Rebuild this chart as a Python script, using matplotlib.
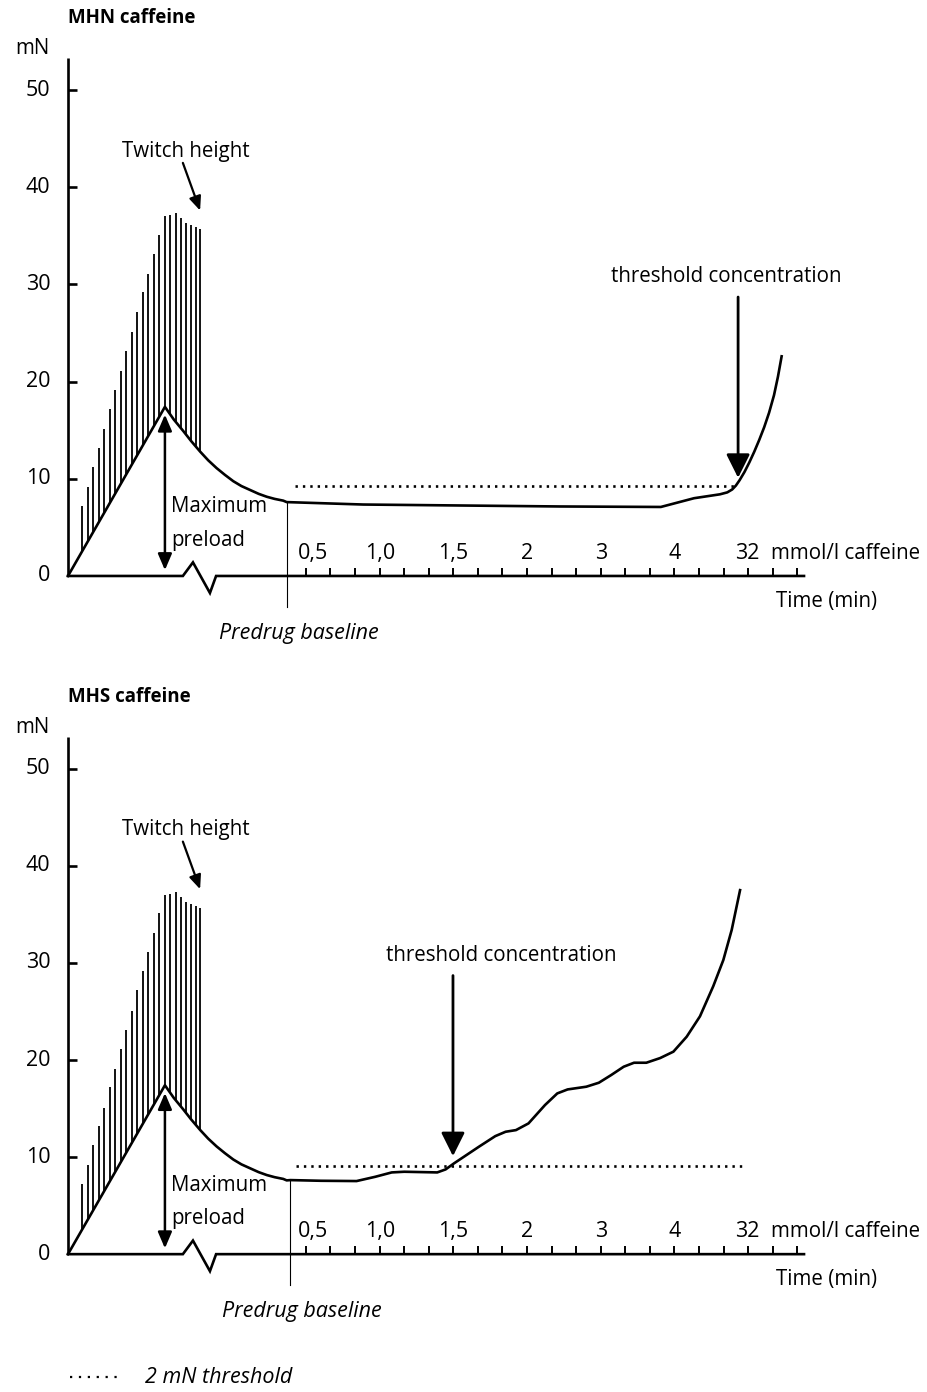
import matplotlib.pyplot as plt
import numpy as np

plt.rcParams["font.family"] = ["Open Sans", "DejaVu Sans"]

# Force axis (mN)
force_ticks = [0, 10, 20, 30, 40, 50]
force_top = 53.3

# Twitch responses during the preload phase (time in arbitrary units, peak force in mN)
twitch_t = [0.57, 0.81, 1.02, 1.26, 1.46, 1.71, 1.91, 2.15, 2.36, 2.60, 2.80, 3.05,
            3.25, 3.50, 3.70, 3.94, 4.15, 4.39, 4.59, 4.80, 5.00, 5.20, 5.37]
twitch_top = [7.2, 9.2, 11.2, 13.2, 15.1, 17.2, 19.1, 21.1, 23.1, 25.1, 27.2, 29.2,
              31.1, 33.1, 35.1, 37.0, 37.1, 37.3, 36.8, 36.3, 36.1, 35.9, 35.7]

# Resting tension while the preload is applied and released
preload_t = [0, 3.94, 4.3, 4.69, 5.0, 5.37, 5.7, 6.04, 6.38, 6.72, 7.05, 7.40,
             7.75, 8.08, 8.4, 8.75, 8.89]
preload_f = [0, 17.4, 16.1, 14.9, 13.9, 12.8, 11.9, 11.1, 10.4, 9.75, 9.25, 8.85,
             8.45, 8.15, 7.93, 7.75, 7.6]

# Baseline force during cumulative caffeine exposure
mhn_t = [8.89, 12.0, 16.0, 20.0, 24.1, 25.45, 26.5, 26.8, 27.0, 27.15, 27.3, 27.5,
         27.7, 27.9, 28.1, 28.3, 28.5, 28.7, 28.86, 29.01]
mhn_f = [7.6, 7.35, 7.25, 7.15, 7.1, 8.0, 8.4, 8.6, 8.9, 9.3, 9.85, 10.7,
         11.7, 12.8, 14.0, 15.3, 16.8, 18.6, 20.5, 22.6]

mhs_t = [8.89, 9.04, 10.28, 11.73, 12.49, 13.16, 13.67, 15.01, 15.35, 15.69, 16.70,
         17.37, 17.79, 18.21, 18.72, 19.39, 19.89, 20.31, 21.07, 21.58, 22.08, 22.59,
         23.01, 23.51, 24.07, 24.61, 25.15, 25.69, 26.23, 26.64, 26.98, 27.32]
mhs_f = [7.6, 7.63, 7.56, 7.53, 7.97, 8.42, 8.49, 8.42, 8.73, 9.35, 11.06,
         12.16, 12.61, 12.78, 13.47, 15.36, 16.56, 16.97, 17.25, 17.66, 18.45, 19.31,
         19.72, 19.72, 20.2, 20.86, 22.4, 24.5, 27.6, 30.3, 33.4, 37.5]

# Caffeine concentration scale
conc_labels = ["0,5", "1,0", "1,5", "2", "3", "4", "32"]
conc_pos = [9.95, 12.67, 15.67, 18.66, 21.66, 24.65, 27.6]
time_ticks = np.linspace(9.67, 29.65, 21)

# Break in the time axis between preload and drug phases
break_t = [0, 4.67, 5.08, 5.77, 6.02, 29.92]
break_f = [0, 0, 1.4, -1.75, 0, 0]

# 2 mN above predrug baseline
threshold_mhn = (9.23, 27.1, 9.3)
threshold_mhs = (9.28, 27.45, 9.1)

FS = 14.8
FS_NUM = 15.5
FS_ITAL = 15.5
LW = 1.9


def draw_panel(ax, title, curve_t, curve_f, baseline_t, threshold, arrow_t, label_t):
    ax.axis("off")

    # Force axis
    ax.plot([0, 0], [0, force_top], color="k", lw=LW, solid_capstyle="butt")
    for f in force_ticks:
        if f > 0:
            ax.plot([0, 0.37], [f, f], color="k", lw=LW, solid_capstyle="butt")
        ax.text(-0.72, f, str(f), ha="right", va="center", fontsize=FS_NUM)
    ax.text(-1.46, 54.3, "mN", ha="center", va="center", fontsize=FS)
    ax.text(0, 57.4, title, ha="left", va="center", fontsize=13.5, fontweight="bold")

    # Time axis with break
    ax.plot(break_t, break_f, color="k", lw=LW, solid_joinstyle="miter")
    for t in time_ticks:
        ax.plot([t, t], [0, 0.8], color="k", lw=1.4, solid_capstyle="butt")
    for lab, t in zip(conc_labels, conc_pos):
        ax.text(t, 2.35, lab, ha="center", va="center", fontsize=FS_NUM)
    ax.text(28.56, 2.35, "mmol/l caffeine", ha="left", va="center", fontsize=FS)
    ax.text(32.9, -2.65, "Time (min)", ha="right", va="center", fontsize=FS)

    # Twitches on top of the preload curve
    full_t = preload_t + curve_t[1:]
    full_f = preload_f + curve_f[1:]
    bottoms = np.interp(twitch_t, full_t, full_f)
    ax.vlines(twitch_t, bottoms, twitch_top, color="k", lw=1.3)
    ax.plot(full_t, full_f, color="k", lw=LW, solid_joinstyle="round")

    # Predrug baseline marker
    base_f = np.interp(baseline_t, full_t, full_f)
    ax.plot([baseline_t, baseline_t], [base_f, -3.2], color="k", lw=0.8)
    ax.text(baseline_t + 0.5, -5.95, "Predrug baseline", ha="center", va="center",
            fontsize=FS_ITAL, style="italic")

    # Threshold line
    ax.plot(threshold[:2], [threshold[2]] * 2, color="k", lw=LW,
            linestyle=(0, (0.9, 1.9)))

    # Maximum preload
    ax.annotate("", xy=(3.94, 16.6), xytext=(3.94, 0.6),
                arrowprops=dict(arrowstyle="<|-|>,head_length=0.7,head_width=0.3",
                                mutation_scale=14, lw=1.8, color="k",
                                shrinkA=0, shrinkB=0))
    ax.text(4.2, 7.1, "Maximum", ha="left", va="center", fontsize=FS)
    ax.text(4.2, 3.7, "preload", ha="left", va="center", fontsize=FS)

    # Twitch height
    ax.text(4.8, 43.7, "Twitch height", ha="center", va="center", fontsize=FS)
    ax.annotate("", xy=(5.37, 37.6), xytext=(4.67, 42.5),
                arrowprops=dict(arrowstyle="-|>,head_length=0.7,head_width=0.3",
                                mutation_scale=12, lw=1.6, color="k",
                                shrinkA=0, shrinkB=0))

    # Threshold concentration
    ax.text(label_t, 30.8, "threshold concentration", ha="center", va="center",
            fontsize=FS)
    ax.annotate("", xy=(arrow_t, 10.1), xytext=(arrow_t, 28.7),
                arrowprops=dict(arrowstyle="-|>,head_length=0.8,head_width=0.4",
                                mutation_scale=18, lw=2.0, color="k",
                                shrinkA=0, shrinkB=0))


fig = plt.figure(figsize=(9.28, 13.92), dpi=100)

ax_mhn = fig.add_axes([0, 0.5, 1, 0.5])
ax_mhn.set_xlim(-2.764, 34.96)
ax_mhn.set_ylim(-12.35, 59.26)
draw_panel(ax_mhn, "MHN caffeine", mhn_t, mhn_f, 8.9, threshold_mhn, 27.24, 26.77)

ax_mhs = fig.add_axes([0, 0, 1, 0.5])
ax_mhs.set_xlim(-2.764, 34.96)
ax_mhs.set_ylim(-14.2, 57.5)
draw_panel(ax_mhs, "MHS caffeine", mhs_t, mhs_f, 9.02, threshold_mhs, 15.65, 17.6)

# Legend for the dotted line
ax_mhs.plot([0.1, 2.2], [-12.7, -12.7], color="k", lw=1.6, linestyle=(0, (1, 3)))
ax_mhs.text(3.13, -12.7, "2 mN threshold", ha="left", va="center", fontsize=FS_ITAL,
            style="italic")

fig.savefig("out.png", dpi=100)
plt.close(fig)
